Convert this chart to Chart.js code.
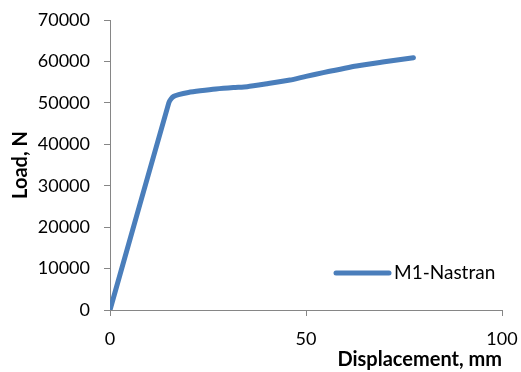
<!DOCTYPE html>
<html>
<head>
<meta charset="utf-8">
<script src="https://cdn.jsdelivr.net/npm/chart.js@4/dist/chart.umd.min.js"></script>
<style>
  html, body { margin: 0; padding: 0; background: #ffffff; }
  #wrap { width: 521px; height: 372px; }
</style>
</head>
<body>
<div id="wrap"><canvas id="c" width="521" height="372"></canvas></div>
<script>
// Load-displacement response (M1-Nastran)
const displacementMm = [0, 15.0, 15.6, 16.3, 17.5, 20.0, 23.0, 27.0, 31.5, 35.0, 40.0, 45.9, 50.0, 54.4, 62.9, 70.0, 77.4];
const loadN          = [0, 50000, 51000, 51600, 52000, 52500, 52900, 53350, 53700, 53900, 54600, 55500, 56400, 57300, 58900, 59900, 60900];
const seriesName = 'M1-Nastran';
const xTicks = [0, 50, 100];
const yTicks = [0, 10000, 20000, 30000, 40000, 50000, 60000, 70000];

const FONT = 'Lato, "Open Sans", "Liberation Sans", sans-serif';
const LINE_BLUE = '#4A7EBB';
const AXIS_GREY = '#868686';

const points = displacementMm.map((x, i) => ({ x: x, y: loadN[i] }));

// Legend drawn inside the plot area, lower right
const insideLegend = {
  id: 'insideLegend',
  afterDraw(chart) {
    const ctx = chart.ctx;
    const ds = chart.data.datasets[0];
    const area = chart.chartArea;
    const y = area.bottom - 37;
    const x0 = area.left + 226;
    ctx.save();
    ctx.strokeStyle = ds.borderColor;
    ctx.lineWidth = 5;
    ctx.lineCap = 'round';
    ctx.beginPath();
    ctx.moveTo(x0, y);
    ctx.lineTo(x0 + 53, y);
    ctx.stroke();
    ctx.fillStyle = '#000000';
    ctx.font = '19px ' + FONT;
    ctx.textBaseline = 'middle';
    ctx.textAlign = 'left';
    ctx.fillText(ds.label, x0 + 58, y);
    ctx.restore();
  }
};

new Chart(document.getElementById('c'), {
  type: 'line',
  data: {
    datasets: [{
      label: seriesName,
      data: points,
      borderColor: LINE_BLUE,
      backgroundColor: LINE_BLUE,
      borderWidth: 5,
      borderCapStyle: 'round',
      borderJoinStyle: 'round',
      pointRadius: 0,
      tension: 0.2,
      fill: false
    }]
  },
  options: {
    responsive: false,
    animation: false,
    devicePixelRatio: 1,
    layout: { padding: { top: 20, right: 19, left: 0, bottom: 0 } },
    plugins: {
      legend: { display: false },
      tooltip: { enabled: false }
    },
    scales: {
      x: {
        type: 'linear',
        min: 0,
        max: 100,
        afterBuildTicks(scale) { scale.ticks = xTicks.map(v => ({ value: v })); },
        afterFit(scale) {
          scale.height = 62;
          scale.paddingLeft = 0;
          scale.paddingRight = 0;
        },
        border: { display: true, color: AXIS_GREY, width: 1 },
        grid: { drawOnChartArea: false, drawTicks: true, tickLength: 6, color: AXIS_GREY },
        ticks: { color: '#000000', font: { family: FONT, size: 18 }, padding: 12, maxRotation: 0 },
        title: {
          display: true,
          text: 'Displacement, mm',
          align: 'end',
          color: '#000000',
          font: { family: FONT, size: 20, weight: 'bold' },
          padding: { top: 0, bottom: 0 }
        }
      },
      y: {
        type: 'linear',
        min: 0,
        max: 70000,
        afterBuildTicks(scale) { scale.ticks = yTicks.map(v => ({ value: v })); },
        afterFit(scale) {
          scale.width = 110;
          scale.paddingTop = 0;
          scale.paddingBottom = 0;
        },
        border: { display: true, color: AXIS_GREY, width: 1 },
        grid: { drawOnChartArea: false, drawTicks: true, tickLength: 6, color: AXIS_GREY },
        ticks: {
          color: '#000000',
          font: { family: FONT, size: 18 },
          padding: 14,
          callback: v => String(v)
        },
        title: {
          display: true,
          text: 'Load, N',
          color: '#000000',
          font: { family: FONT, size: 20, weight: 'bold' },
          padding: { top: 9, bottom: 0 }
        }
      }
    }
  },
  plugins: [insideLegend]
});
</script>
</body>
</html>
